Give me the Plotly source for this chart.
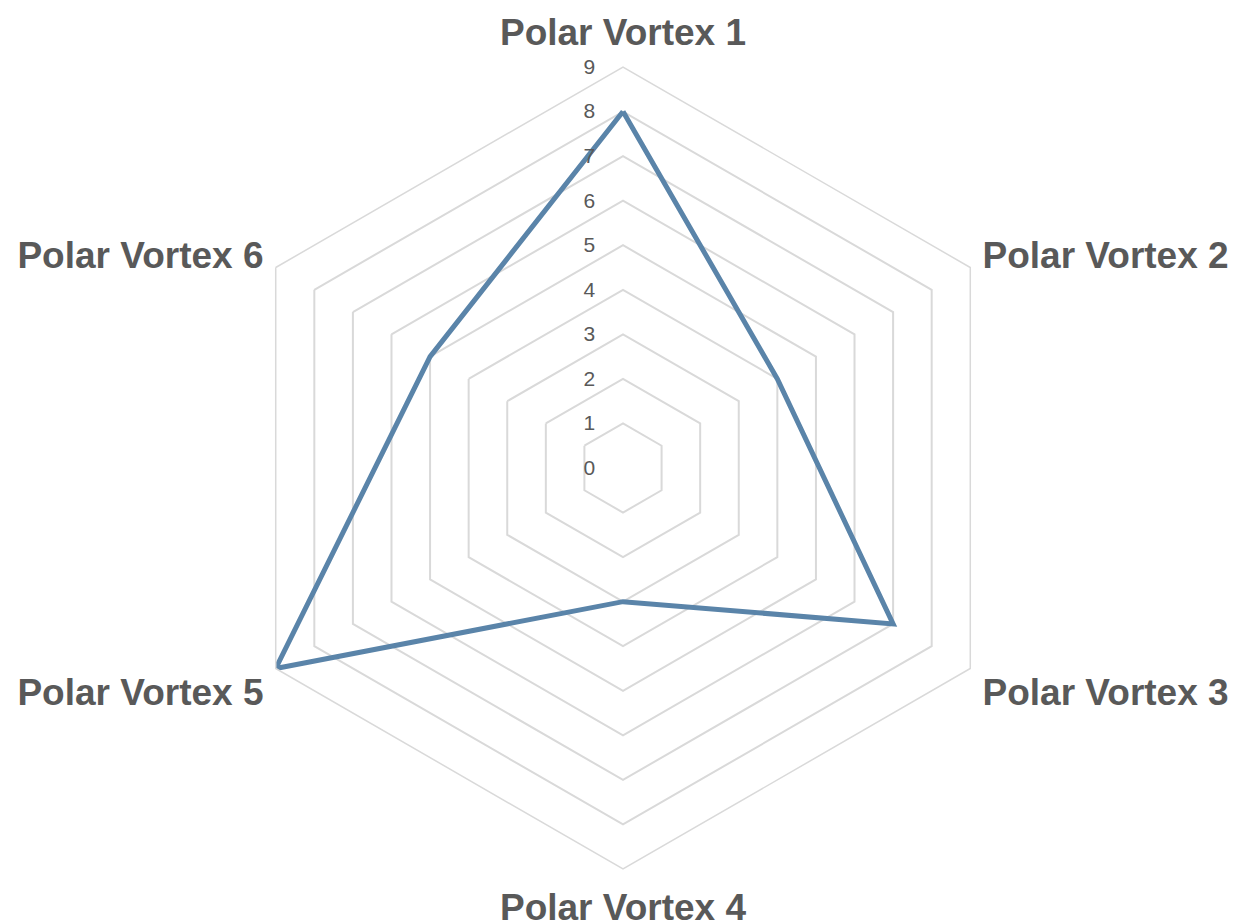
import plotly.graph_objects as go

categories = ["Polar Vortex 1", "Polar Vortex 2", "Polar Vortex 3",
              "Polar Vortex 4", "Polar Vortex 5", "Polar Vortex 6"]
values = [8, 4, 7, 3, 9, 5]
radial_ticks = [0, 1, 2, 3, 4, 5, 6, 7, 8, 9]

fig = go.Figure()
fig.add_trace(go.Scatterpolar(
    r=values + values[:1],
    theta=categories + categories[:1],
    mode="lines",
    line=dict(color="#5A84A9", width=5),
    showlegend=False,
))

fig.update_layout(
    width=1241, height=923,
    margin=dict(l=0, r=11, t=59, b=62),
    paper_bgcolor="white",
    plot_bgcolor="white",
    font=dict(family="Liberation Sans, Arial, sans-serif", color="#595959"),
    polar=dict(
        bgcolor="white",
        gridshape="linear",
        radialaxis=dict(
            range=[0, 9],
            tickvals=radial_ticks,
            ticktext=[str(t) for t in radial_ticks],
            angle=90,
            side="counterclockwise",
            showline=False,
            showgrid=True,
            gridcolor="#D9D9D9",
            gridwidth=1.5,
            ticks="outside",
            ticklen=20,
            tickcolor="rgba(0,0,0,0)",
            tickfont=dict(size=21, color="#595959"),
            tickangle=90,
        ),
        angularaxis=dict(
            rotation=90,
            direction="clockwise",
            showgrid=False,
            showline=True,
            linecolor="#D9D9D9",
            linewidth=1.5,
            ticks="outside",
            ticklen=6,
            tickcolor="rgba(0,0,0,0)",
            tickfont=dict(size=37, color="#595959", family="Liberation Sans, Arial, sans-serif", weight="bold"),
        ),
    ),
)

fig.write_html("out.html")
